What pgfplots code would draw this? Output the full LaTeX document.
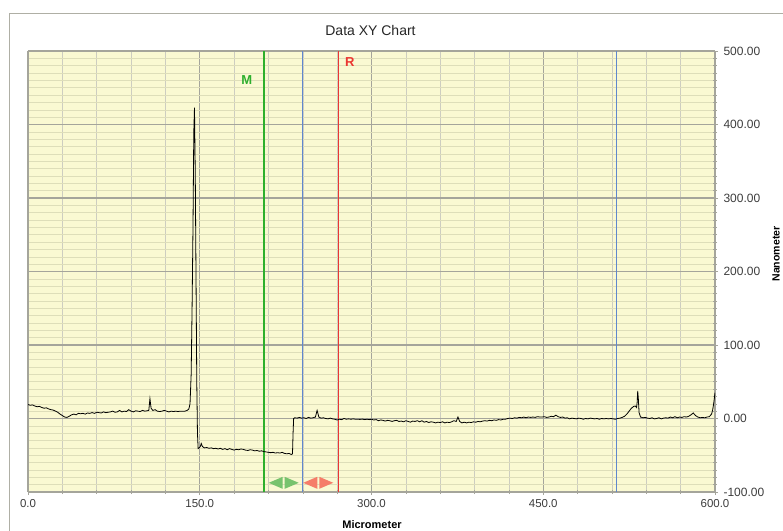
\documentclass[border=0pt]{standalone}
\usepackage{pgfplots}
\pgfplotsset{compat=1.18}
\usepackage{fontspec}
\setmainfont{Liberation Sans}
\definecolor{bgyel}{RGB}{250,249,210}
\definecolor{mingridh}{RGB}{222,222,185}
\definecolor{mingridv}{RGB}{205,205,192}
\definecolor{majgrid}{RGB}{165,165,155}
\definecolor{lblue}{RGB}{95,135,205}
\definecolor{markgreen}{RGB}{45,175,45}
\definecolor{rred}{RGB}{235,55,50}
\definecolor{agreen}{RGB}{120,195,110}
\definecolor{ared}{RGB}{245,125,105}
\definecolor{ticktext}{RGB}{60,60,60}
\definecolor{framegray}{RGB}{175,175,165}
\begin{document}
\begin{tikzpicture}
\useasboundingbox (0pt,0pt) rectangle (783pt,530pt);
\draw[framegray, line width=1pt] (9pt,-5pt) rectangle (800pt,516pt);
\node[font=\fontsize{14}{16}\selectfont, text=black!85] at (370.5pt,499pt) {Data XY Chart};
\node[font=\bfseries\fontsize{11}{13}\selectfont] at (372pt,5pt) {Micrometer};
\node[font=\bfseries\fontsize{10.5}{12}\selectfont, rotate=90, inner sep=1pt] at (776pt,276pt) {Nanometer};
\begin{axis}[
  at={(28pt,38pt)}, anchor=south west,
  scale only axis, width=687pt, height=441pt,
  xmin=0, xmax=600, ymin=-100, ymax=500,
  axis background/.style={fill=bgyel},
  axis line style={majgrid, line width=1pt},
  xtick={0,150,300,450,600},
  xticklabels={0.0,150.0,300.0,450.0,600.0},
  ytick={-100,0,100,200,300,400,500},
  yticklabels={-100.00,0.00,100.00,200.00,300.00,400.00,500.00},
  minor x tick num=4, minor y tick num=9,
  xmajorgrids, ymajorgrids, xminorgrids, yminorgrids,
  major x grid style={majgrid, line width=1.1pt},
  major y grid style={majgrid, line width=1.1pt},
  minor x grid style={mingridv, line width=0.6pt},
  minor y grid style={mingridh, line width=0.6pt},
  xtick pos=bottom, ytick pos=right, yticklabel pos=right,
  tick align=center, major tick length=6pt, minor tick length=4pt,
  tick style={majgrid, line width=0.6pt},
  xticklabel style={font=\fontsize{11.5}{13}\selectfont, text=ticktext, yshift=-1pt},
  yticklabel style={font=\fontsize{12}{14}\selectfont, text=ticktext, xshift=2pt},
  /pgf/number format/assume math mode=true,
]
\addplot[lblue, line width=0.7pt, mark=none, forget plot] coordinates {(240,-100) (240,500)};
\addplot[lblue, line width=0.7pt, mark=none, forget plot] coordinates {(513.5,-100) (513.5,500)};
\addplot[markgreen, line width=1.4pt, mark=none, forget plot] coordinates {(206.2,-100) (206.2,500)};
\addplot[rred, line width=0.9pt, mark=none, forget plot] coordinates {(271.5,-100) (271.5,500)};
\node[text=markgreen, font=\bfseries\fontsize{13}{15}\selectfont] at (axis cs:191,460) {M};
\node[text=rred, font=\bfseries\fontsize{13}{15}\selectfont] at (axis cs:281,485) {R};
% arrow glyphs
\fill[agreen] (axis cs:223.3,-87.5) ++(-1pt,6pt) -- ++(-14pt,-6pt) -- ++(14pt,-6pt) -- cycle;
\fill[agreen] (axis cs:223.3,-87.5) ++(1pt,6pt) -- ++(14pt,-6pt) -- ++(-14pt,-6pt) -- cycle;
\fill[ared] (axis cs:253.5,-87.5) ++(-1pt,6pt) -- ++(-14pt,-6pt) -- ++(14pt,-6pt) -- cycle;
\fill[ared] (axis cs:253.5,-87.5) ++(1pt,6pt) -- ++(14pt,-6pt) -- ++(-14pt,-6pt) -- cycle;
\addplot[black, line width=0.8pt, mark=none] coordinates {
(0,19) (2,18) (4,18.5) (6,17) (8,16) (10,16.5) (12,15) (14,14) (16,14.5) (18,13) (20,12) (22,11.5) (24,10) (26,8.5) (28,6) (30,4) (32,2) (34,1.5) (36,3) (38,5) (40,6) (42,5) (44,7) (46,6.5) (48,7) (50,6) (52,7.5) (54,7) (56,8) (58,7) (60,8.5) (62,8) (64,7.5) (66,9) (68,8) (70,8.5) (72,9) (74,10) (76,8.5) (78,9) (80,11) (82,9) (84,10) (86,9.5) (88,12) (90,10) (92,9) (94,10.5) (96,10) (98,9.5) (100,11) (102,10) (104,10.5) (105.5,11) (106.5,27) (107.5,14) (109,11) (111,12) (113,10) (115,9.5) (117,10) (119,11) (121,10) (123,9) (125,10) (127,9.5) (129,10) (131,9.5) (133,10) (135,9.8) (137,10) (139,11) (140.5,13) (141.5,20) (142.5,60) (143.3,150) (144.1,260) (144.8,390) (145.4,423) (146.1,330) (146.8,180) (147.4,50) (148,-20) (148.6,-41) (149.5,-40) (150.5,-38) (151.3,-34) (152.3,-38) (154,-40) (156,-39.5) (158,-40.5) (160,-40) (162,-41) (164,-40.5) (166,-41.5) (168,-40.5) (170,-42) (172,-41) (174,-42.5) (176,-41) (178,-42) (180,-43) (182,-42) (184,-42.5) (186,-41.5) (188,-42) (190,-43) (192,-43.5) (194,-42.5) (196,-43) (198,-44) (200,-43.5) (202,-44.5) (204,-44) (206,-45) (208,-45.5) (210,-46) (212,-46.5) (214,-46) (216,-47) (218,-46.5) (220,-47) (222,-46) (224,-47.5) (226,-48) (228,-47.5) (230,-49) (231,-48) (231.5,-20) (232,0) (233,1) (235,0.5) (237,1.5) (239,0.5) (241,1) (243,0) (245,1.5) (247,0.5) (249,1) (251,2) (252.5,11) (254,2) (256,0.5) (258,1) (260,0) (262,-0.5) (264,0.5) (266,-0.5) (268,-1) (270,-2) (272,-1) (274,-1.5) (276,0) (278,-1) (280,-0.5) (282,-1) (284,-0.5) (286,-1) (288,-1) (290,-1.2) (292,-0.8) (294,-1.5) (296,-1) (298,-1.5) (300,-1) (302,-2) (304,-1.5) (306,-3) (308,-2) (310,-2.5) (312,-3.5) (314,-2.5) (316,-3) (318,-4) (320,-3) (322,-2.5) (324,-4) (326,-3.5) (328,-4.5) (330,-3) (332,-4) (334,-5) (336,-3.5) (338,-4) (340,-3) (342,-4.5) (344,-3) (346,-5) (348,-4) (350,-5.5) (352,-4.5) (354,-5) (356,-6) (358,-5) (360,-5.5) (362,-4.5) (364,-6) (366,-5) (368,-5.5) (370,-4.5) (372,-3) (374,-4) (375.5,2) (377,-4) (379,-6) (381,-5) (383,-6) (385,-5) (387,-5.5) (389,-4.5) (391,-5) (393,-4) (395,-4.5) (397,-3.5) (399,-3) (401,-3.5) (403,-2.5) (405,-3) (407,-2) (409,-2.5) (411,-1.5) (413,-2) (415,-1) (417,-1) (419,0) (421,0.5) (423,0) (425,1) (427,0.5) (429,1.5) (431,1) (433,2) (435,1) (437,2) (439,1.5) (441,2) (443,1.5) (445,2.5) (447,2) (449,2) (451,2.5) (453,1.5) (455,2) (457,3) (459,2.5) (461,4.5) (463,2.5) (465,1.5) (467,2) (469,0.5) (471,1) (473,-0.5) (475,0.5) (477,0) (479,-0.5) (481,0.5) (483,0) (485,-1) (487,0) (489,-0.5) (491,0.5) (493,0) (495,-0.5) (497,0) (499,-1) (501,0) (503,-0.5) (505,0) (507,-0.5) (509,0) (511,-0.5) (513,-1) (515,0) (517,0.5) (519,1.5) (521,3) (523,6) (525,10) (527,14) (529,16.5) (530.5,17) (531.5,15) (532,22) (532.5,37.5) (533,28) (533.7,8) (535,2) (537,1) (539,1.5) (541,0.5) (543,0) (545,1) (547,-0.5) (549,0) (551,1) (553,-0.5) (555,0.5) (557,1) (559,0.5) (561,2) (563,1) (565,2.5) (567,1) (569,2) (571,1.5) (573,2.5) (575,2) (577,3) (579,5) (581,7.5) (583,4) (585,2) (587,1) (589,1.5) (591,1) (593,2) (595,2.5) (597,6) (598,12) (599,22) (600,35)
};
\end{axis}
\end{tikzpicture}
\end{document}
